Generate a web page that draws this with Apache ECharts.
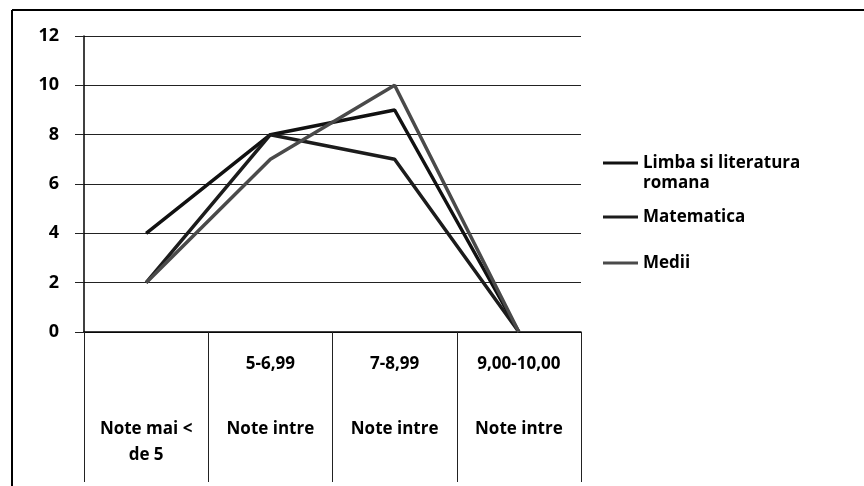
<!DOCTYPE html>
<html>
<head>
<meta charset="utf-8">
<script src="https://cdn.jsdelivr.net/npm/echarts@6/dist/echarts.min.js"></script>
<style>
  html, body { margin: 0; padding: 0; background: #fff; }
  #main { width: 864px; height: 486px; }
</style>
</head>
<body>
<div id="main"></div>
<script>
// categories (two rows, like the excel table under the chart)
var categories = ['Note mai < de 5', 'Note intre 5-6,99', 'Note intre 7-8,99', 'Note intre 9,00-10,00'];
var topRow = ['', '5-6,99', '7-8,99', '9,00-10,00'];
var bottomRow = ['Note mai <\nde 5', 'Note intre', 'Note intre', 'Note intre'];

var limba = [4, 8, 9, 0];
var matematica = [2, 8, 7, 0];
var medii = [2, 7, 10, 0];

var yTicks = { min: 0, max: 12, interval: 2 };

var font = 'Open Sans';
var myChart = echarts.init(document.getElementById('main'));

function legendBox(name, top) {
    return {
        data: [name],
        left: 603,
        top: top,
        padding: 0,
        icon: 'rect',
        itemWidth: 35,
        itemHeight: 3,
        selectedMode: false,
        formatter: function (n) {
            if (n === 'Limba si literatura romana') return '\nLimba si literatura\nromana';
            return n;
        },
        textStyle: { fontFamily: font, fontWeight: 'bold', fontSize: 17, color: '#000', lineHeight: 20 }
    };
}

var option = {
    animation: false,
    backgroundColor: '#fff',
    grid: { left: 84, top: 36, right: 283, bottom: 154 },
    legend: [
        legendBox('Limba si literatura romana', 133),
        legendBox('Matematica', 207),
        legendBox('Medii', 253)
    ],
    xAxis: [{
        type: 'category',
        data: categories,
        boundaryGap: true,
        axisLine: { lineStyle: { color: '#000', width: 1.5 } },
        axisTick: { show: true, length: 150, lineStyle: { color: '#222', width: 1 } },
        axisLabel: {
            interval: 0,
            margin: 24,
            verticalAlign: 'top',
            fontFamily: font, fontWeight: 'bold', fontSize: 17, color: '#000',
            formatter: function (v, i) { return topRow[i]; }
        }
    }, {
        type: 'category',
        data: categories,
        position: 'bottom',
        boundaryGap: true,
        axisLine: { show: false },
        axisTick: { show: false },
        axisLabel: {
            interval: 0,
            margin: 84,
            verticalAlign: 'top',
            lineHeight: 26,
            fontFamily: font, fontWeight: 'bold', fontSize: 17, color: '#000',
            formatter: function (v, i) { return bottomRow[i]; }
        }
    }],
    yAxis: {
        type: 'value',
        min: yTicks.min,
        max: yTicks.max,
        interval: yTicks.interval,
        axisLine: { show: true, lineStyle: { color: '#000', width: 1.5 } },
        axisTick: { show: true, length: 9, lineStyle: { color: '#222' } },
        axisLabel: { margin: 25, fontFamily: font, fontWeight: 'bold', fontSize: 18, color: '#000' },
        splitLine: { show: true, lineStyle: { color: '#222', width: 1 } }
    },
    graphic: [
        { type: 'line', shape: { x1: 12, y1: 10, x2: 864, y2: 10 }, style: { stroke: '#000', lineWidth: 2 } },
        { type: 'line', shape: { x1: 12, y1: 10, x2: 12, y2: 486 }, style: { stroke: '#000', lineWidth: 2 } }
    ],
    series: [{
        name: 'Limba si literatura romana',
        type: 'line',
        data: limba,
        symbol: 'none',
        lineStyle: { color: '#111', width: 3.5 },
        itemStyle: { color: '#111' }
    }, {
        name: 'Matematica',
        type: 'line',
        data: matematica,
        symbol: 'none',
        lineStyle: { color: '#1c1c1c', width: 3.5 },
        itemStyle: { color: '#1c1c1c' }
    }, {
        name: 'Medii',
        type: 'line',
        data: medii,
        symbol: 'none',
        lineStyle: { color: '#4a4a4a', width: 3.5 },
        itemStyle: { color: '#4a4a4a' }
    }]
};
myChart.setOption(option);
</script>
</body>
</html>
